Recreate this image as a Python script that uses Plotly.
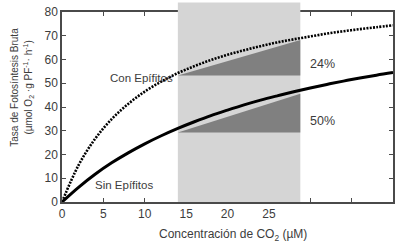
import plotly.graph_objects as go

# CO2 concentration (µM) sample points and read-off curve values
co2 = [0, 2, 4, 6, 8, 10, 12, 14, 16, 18, 20, 22, 24, 26, 28, 30, 32, 34, 36, 38, 40]
con_epifitos = [0, 15.5, 26.6, 34.9, 41.3, 46.5, 50.7, 54.3, 57.2, 59.8, 62.0,
                63.9, 65.6, 67.2, 68.5, 69.7, 70.9, 71.9, 72.8, 73.6, 74.4]
sin_epifitos = [0, 6.2, 11.7, 16.5, 20.7, 24.5, 27.9, 31.0, 33.8, 36.4, 38.7,
                40.9, 42.9, 44.7, 46.4, 48.0, 49.5, 50.9, 52.2, 53.4, 54.5]

# shaded CO2 range (µM)
band_x = [14, 28.8]
# triangles: [base value, top value] at band edges
tri_con = [53.3, 68.2]
tri_sin = [29.3, 45.6]

x_ticks = [0, 5, 10, 15, 20, 25, 30, 35, 40]
x_ticktext = ["0", "5", "10", "15", "20", "25", "", "", ""]
y_ticks = [0, 10, 20, 30, 40, 50, 60, 70, 80]

FONT = "Liberation Sans, Arial, sans-serif"
TXT = "#3c3c3c"
AX = "#4a4a4a"
BAND = "#d5d5d5"
TRI = "#808080"

fig = go.Figure()

# band
fig.add_trace(go.Scatter(
    x=[band_x[0], band_x[1], band_x[1], band_x[0], band_x[0]],
    y=[y_ticks[0], y_ticks[0], y_ticks[-1], y_ticks[-1], y_ticks[0]],
    fill="toself", fillcolor=BAND, line=dict(width=0), mode="lines",
    hoverinfo="skip", showlegend=False))

# triangles
for tri in (tri_con, tri_sin):
    fig.add_trace(go.Scatter(
        x=[band_x[0], band_x[1], band_x[1], band_x[0]],
        y=[tri[0], tri[0], tri[1], tri[0]],
        fill="toself", fillcolor=TRI, line=dict(width=0), mode="lines",
        hoverinfo="skip", showlegend=False))

fig.add_trace(go.Scatter(x=co2, y=con_epifitos, mode="lines", line_shape="spline",
                         line=dict(color="black", width=2.6, dash="2px,1.3px"),
                         showlegend=False))
fig.add_trace(go.Scatter(x=co2, y=sin_epifitos, mode="lines", line_shape="spline",
                         line=dict(color="black", width=3), showlegend=False))

# band extension above the frame
fig.add_shape(type="rect", xref="x", yref="paper", x0=band_x[0], x1=band_x[1],
              y0=1, y1=1.05, fillcolor=BAND, line_width=0, layer="above")

axis_common = dict(showline=True, linecolor=AX, linewidth=1.5, mirror="ticks",
                   ticks="inside", ticklen=4, tickwidth=1, tickcolor=AX,
                   showgrid=False, zeroline=False, layer="below traces",
                   tickfont=dict(family=FONT, size=12, color=TXT))

fig.update_xaxes(range=[0, 40], tickvals=x_ticks, ticktext=x_ticktext, **axis_common)
fig.update_yaxes(range=[0, 80], tickvals=y_ticks, **axis_common)

ann = dict(showarrow=False, font=dict(family=FONT, size=11.5, color=TXT))
fig.add_annotation(x=9.66, y=52.4, text="Con Epífitos", **ann)
fig.add_annotation(x=7.44, y=7.0, text="Sin Epífitos", **ann)
fig.add_annotation(x=31.45, y=57.9, text="24%",
                   showarrow=False, font=dict(family=FONT, size=12.5, color=TXT))
fig.add_annotation(x=31.45, y=34.0, text="50%",
                   showarrow=False, font=dict(family=FONT, size=12.5, color=TXT))

# axis titles
fig.add_annotation(xref="paper", yref="paper", x=(234 - 62) / 333, y=-0.175,
                   text="Concentración de CO<sub>2</sub> (µM)", showarrow=False,
                   yanchor="middle", font=dict(family=FONT, size=12, color=TXT))
fig.add_annotation(xref="paper", yref="paper", x=-48 / 333, y=(202 - 85) / 194,
                   text="Tasa de Fotosíntesis Bruta", textangle=-90, showarrow=False,
                   xanchor="center", yanchor="middle",
                   font=dict(family=FONT, size=10, color=TXT))
fig.add_annotation(xref="paper", yref="paper", x=-34 / 333, y=(202 - 85) / 194,
                   text="(µmol O<sub>2</sub> ·g PF<sup>-1</sup>· h<sup>-1</sup>)",
                   textangle=-90, showarrow=False, xanchor="center", yanchor="middle",
                   font=dict(family=FONT, size=10, color=TXT))

fig.update_layout(width=400, height=246, margin=dict(l=62, r=5, t=8, b=44),
                  plot_bgcolor="white", paper_bgcolor="white")

fig.write_html("out.html", config={"displayModeBar": False},
               post_script="document.body.style.margin='0';document.body.style.padding='0';")
